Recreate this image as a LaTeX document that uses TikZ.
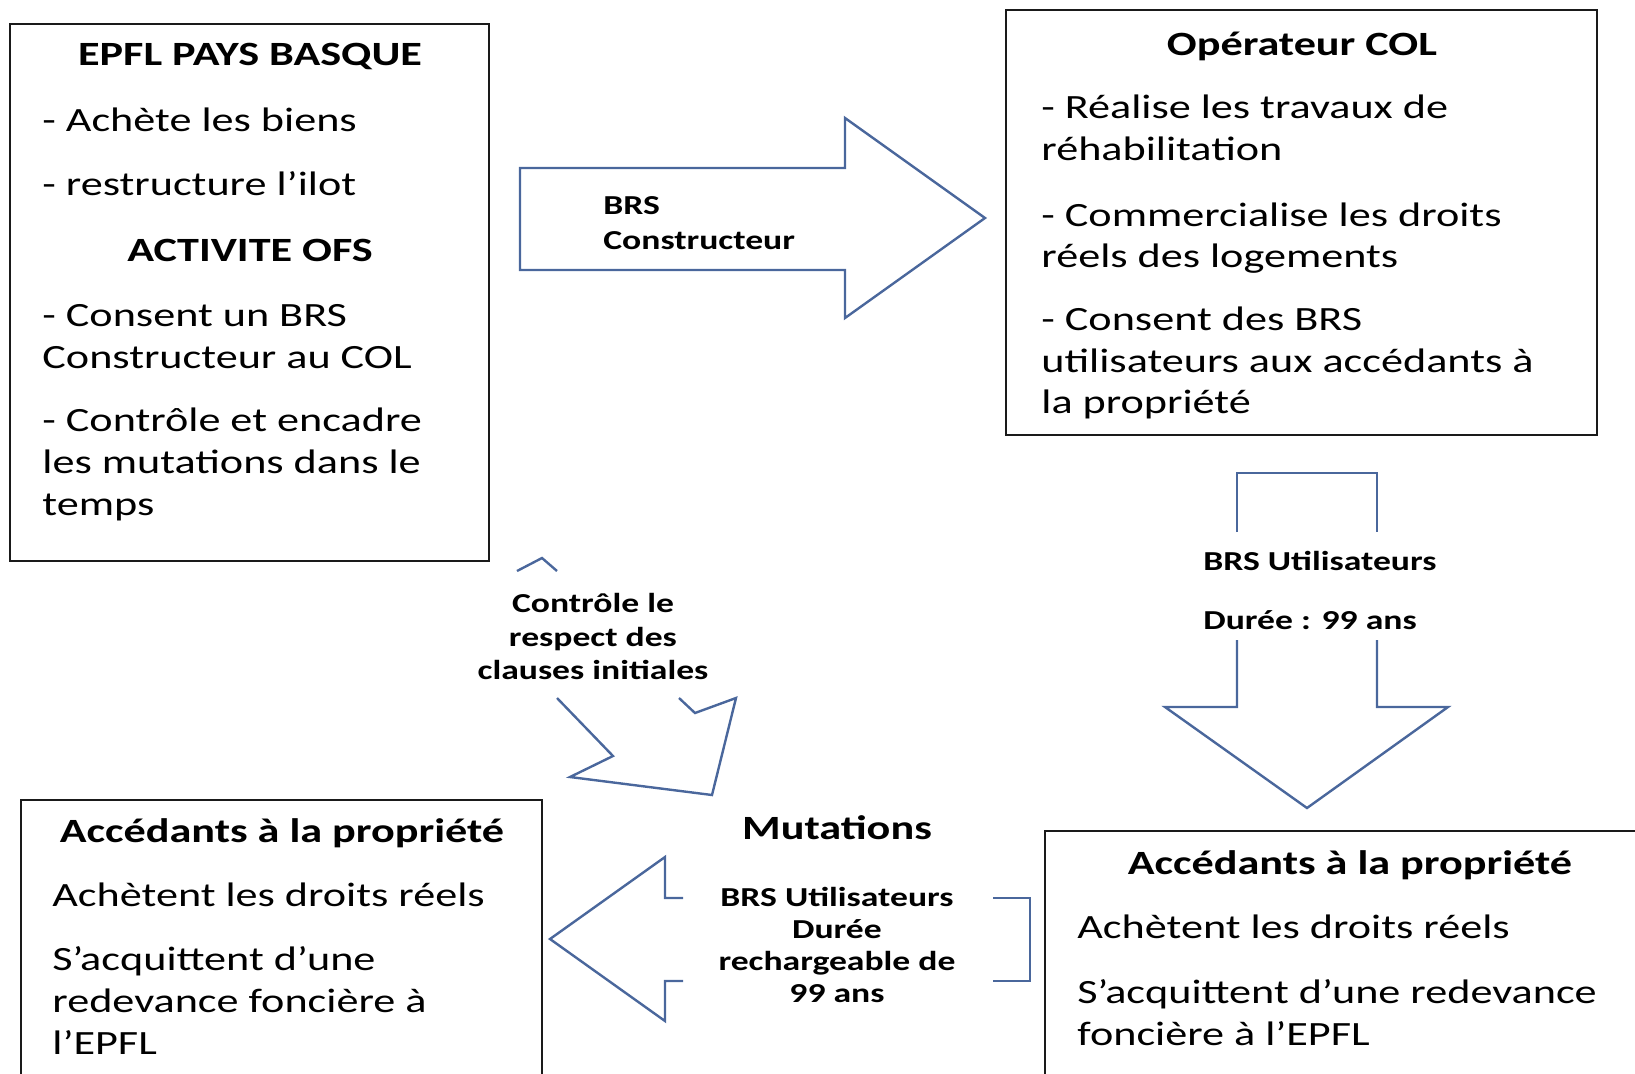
\documentclass[tikz,border=0pt]{standalone}
\usepackage{fontspec}
\setmainfont{Carlito}[FakeStretch=1.3]
\usepackage{tikz}
\usepackage{xcolor}
\definecolor{FlowBlue}{HTML}{4A679C}
\definecolor{FrameBlack}{HTML}{1A1A1A}

\begin{document}
\begin{tikzpicture}[x=0.5pt, y=-0.5pt,
    body/.style={font=\fontsize{17}{21}\selectfont, anchor=base west, inner sep=0pt},
    head/.style={font=\bfseries\fontsize{17}{21}\selectfont, anchor=base, inner sep=0pt},
    tag/.style={font=\bfseries\fontsize{13.7}{16.5}\selectfont, inner sep=0pt},
    frame/.style={draw=FrameBlack, line width=1.3pt},
    flow/.style={draw=FlowBlue, line width=1.2pt, line join=miter}]
    \useasboundingbox (0,0) rectangle (1635,1073);
    \clip (0,0) rectangle (1635,1073);

    % EPFL box
    \draw[frame] (10,24) rectangle (489,561);
    \node[head] (epfl) at (250,65) {EPFL PAYS BASQUE};
    \node[head] (ofs) at (250,261) {ACTIVITE OFS};
    \foreach \y/\txt [count=\i] in {131/{- Achète les biens}, 195/{- restructure l’ilot},
        326/{- Consent un BRS}, 368/{Constructeur au COL}, 431/{- Contrôle et encadre},
        473/{les mutations dans le}, 515/{temps}}
        \node[body] (epfl\i) at (42,\y) {\txt};

    % COL box
    \draw[frame] (1006,10) rectangle (1597,435);
    \node[head] (col) at (1302,55) {Opérateur COL};
    \foreach \y/\txt [count=\i] in {118/{- Réalise les travaux de}, 160/{réhabilitation},
        226/{- Commercialise les droits}, 267/{réels des logements}, 330/{- Consent des BRS},
        372/{utilisateurs aux accédants à}, 413/{la propriété}}
        \node[body] (col\i) at (1041,\y) {\txt};

    % Accedants, left
    \draw[frame] (21,800) rectangle (542,1090);
    \node[head] (accl) at (282,842) {Accédants à la propriété};
    \foreach \y/\txt [count=\i] in {906/{Achètent les droits réels}, 970/{S’acquittent d’une},
        1012/{redevance foncière à}, 1054/{l’EPFL}}
        \node[body] (accl\i) at (52,\y) {\txt};

    % Accedants, right
    \draw[frame] (1045,831) rectangle (1665,1090);
    \node[head] (accr) at (1350,874) {Accédants à la propriété};
    \foreach \y/\txt [count=\i] in {938/{Achètent les droits réels}, 1003/{S’acquittent d’une redevance},
        1045/{foncière à l’EPFL}}
        \node[body] (accr\i) at (1077,\y) {\txt};

    % BRS constructeur
    \draw[flow] (520,168) -- (845,168) -- (845,118) -- (985,218) -- (845,318) -- (845,270) -- (520,270) -- cycle;
    \node[tag, anchor=base west] (brs) at (603,214) {BRS};
    \node[tag, anchor=base west] (constr) at (603,249) {Constructeur};

    % BRS utilisateurs, down
    \draw[flow] (1237,532) -- (1237,473) -- (1377,473) -- (1377,532);
    \draw[flow] (1237,640) -- (1237,707) -- (1165,707) -- (1307,808) -- (1448,707) -- (1377,707) -- (1377,640);
    \node[tag, anchor=base west] (util) at (1203,570) {BRS Utilisateurs};
    \node[tag, anchor=base west] (duree) at (1203,629) {Durée : 99 ans};

    % Mutations, left
    \draw[flow] (683,898) -- (665,898) -- (665,857) -- (550,939) -- (665,1021) -- (665,981) -- (683,981);
    \draw[flow] (993,898) -- (1030,898) -- (1030,981) -- (993,981);
    \node[head] (mut) at (837,839) {Mutations};
    \foreach \y/\txt [count=\i] in {906/{BRS Utilisateurs}, 938/{Durée}, 970/{rechargeable de}, 1002/{99 ans}}
        \node[tag, anchor=base] (mut\i) at (837,\y) {\txt};

    % Controle, diagonal
    \draw[flow] (517,571) -- (542,558) -- (557,571);
    \draw[flow] (557,698) -- (613,756) -- (570,777) -- (712,795) -- (736,698) -- (695,713) -- (679,698);
    \foreach \y/\txt [count=\i] in {612/{Contrôle le}, 646/{respect des}, 679/{clauses initiales}}
        \node[tag, anchor=base] (ctrl\i) at (593,\y) {\txt};
\end{tikzpicture}
\end{document}
